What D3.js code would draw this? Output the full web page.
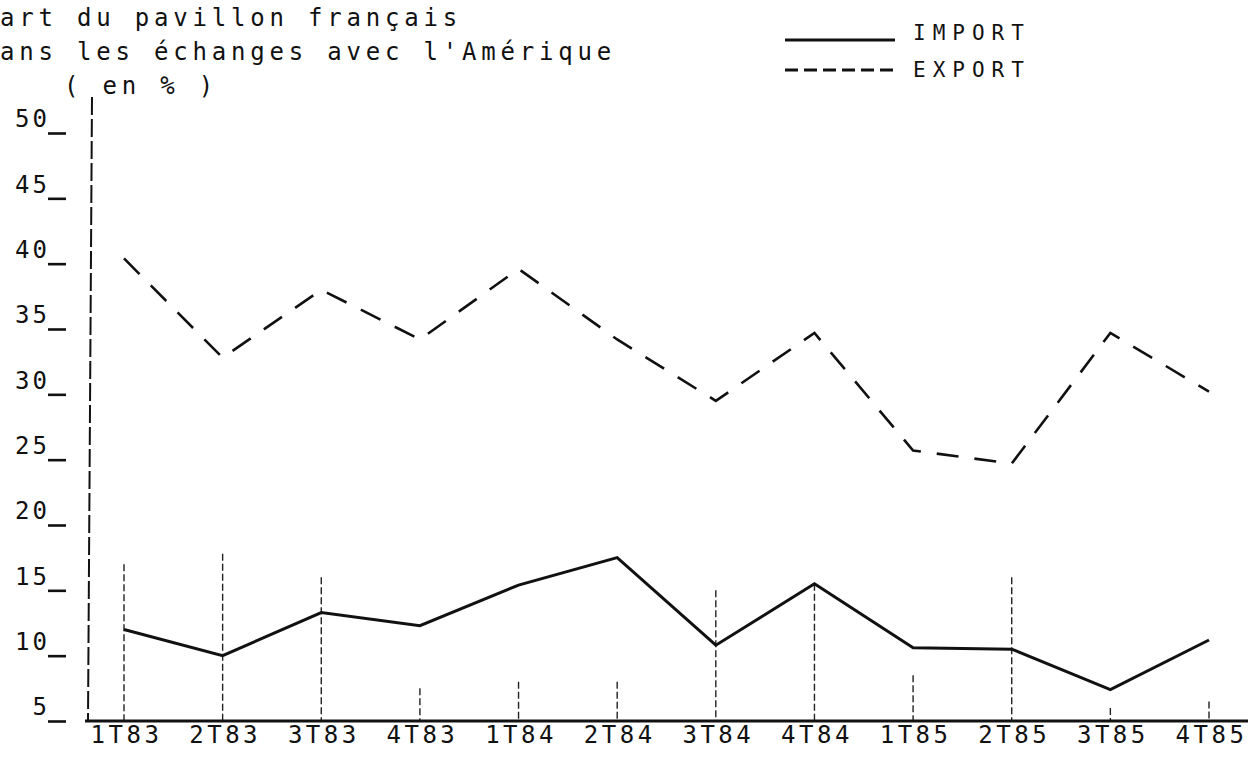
<!DOCTYPE html>
<html>
<head>
<meta charset="utf-8">
<script src="https://cdn.jsdelivr.net/npm/d3@7"></script>
<style>
body { margin: 0; background: #fff; }
text { font-family: "DejaVu Sans Mono", monospace; fill: #111; }
</style>
</head>
<body>
<script>
// quarters on the x axis
var quarters = ['1T83', '2T83', '3T83', '4T83', '1T84', '2T84', '3T84', '4T84', '1T85', '2T85', '3T85', '4T85'];
// share of the French flag, in %
var importPct = [12, 10, 13.3, 12.3, 15.4, 17.5, 10.8, 15.5, 10.6, 10.5, 7.4, 11.2];
var exportPct = [40.4, 32.8, 38, 34.2, 39.6, 34.2, 29.5, 34.7, 25.7, 24.7, 34.7, 30.2];
var yTicks = [5, 10, 15, 20, 25, 30, 35, 40, 45, 50];
// top of the hand drawn drop lines, in %
var guideTop = [17, 17.8, 16, 7.5, 8, 8, 15, 15.5, 8.5, 16, 6, 6.5];
var titleLines = ['art du pavillon français', "ans les échanges avec l'Amérique", '( en % )'];
var legendItems = ['IMPORT', 'EXPORT'];

var width = 1248, height = 757;

var svg = d3.select('body').append('svg')
  .attr('width', width)
  .attr('height', height);

var x = d3.scalePoint().domain(quarters).range([124, 1209]);
var y = d3.scaleLinear().domain([5, 50]).range([721, 133]);

// title
svg.selectAll('text.title')
  .data(titleLines)
  .enter().append('text')
  .attr('class', 'title')
  .attr('x', function(d, i) { return i === 2 ? 64 : 0; })
  .attr('y', function(d, i) { return 26 + i * 34; })
  .style('font-size', '24px')
  .style('letter-spacing', '4.8px')
  .text(function(d) { return d; });

// drop lines
svg.selectAll('line.guide')
  .data(quarters)
  .enter().append('line')
  .attr('class', 'guide')
  .attr('x1', function(d) { return x(d); })
  .attr('x2', function(d) { return x(d); })
  .attr('y1', function(d, i) { return y(guideTop[i]); })
  .attr('y2', y(5))
  .attr('stroke', '#222')
  .attr('stroke-width', 1.4)
  .attr('stroke-dasharray', '7,3');

// y axis
var yAxis = svg.append('g')
  .attr('transform', 'translate(48,0)')
  .call(d3.axisLeft(y).tickValues(yTicks).tickSize(-18).tickPadding(-2));
yAxis.select('.domain').remove();
yAxis.selectAll('.tick line').attr('stroke', '#111').attr('stroke-width', 2.6);
yAxis.selectAll('.tick text')
  .attr('dy', '-0.26em')
  .style('font-size', '24px')
  .style('letter-spacing', '3px')
  .style('font-family', '"DejaVu Sans Mono", monospace')
  .attr('fill', '#111');

svg.append('line')
  .attr('x1', 92).attr('y1', y(50) - 36)
  .attr('x2', 88).attr('y2', y(5))
  .attr('stroke', '#111')
  .attr('stroke-width', 2)
  .attr('stroke-dasharray', '18,4');

// x axis
var xAxis = svg.append('g')
  .attr('transform', 'translate(0,' + y(5) + ')')
  .call(d3.axisBottom(x).tickSize(0).tickPadding(5));
xAxis.select('.domain').remove();
xAxis.selectAll('.tick text')
  .attr('dx', 2)
  .attr('dy', '0.71em')
  .style('font-size', '24px')
  .style('letter-spacing', '3.5px')
  .style('font-family', '"DejaVu Sans Mono", monospace')
  .attr('fill', '#111');

svg.append('line')
  .attr('x1', 85).attr('x2', width)
  .attr('y1', y(5)).attr('y2', y(5))
  .attr('stroke', '#111')
  .attr('stroke-width', 3);

// series
var line = d3.line()
  .x(function(d, i) { return x(quarters[i]); })
  .y(function(d) { return y(d); });

svg.append('path')
  .datum(exportPct)
  .attr('d', line)
  .attr('fill', 'none')
  .attr('stroke', '#111')
  .attr('stroke-width', 2.6)
  .attr('stroke-dasharray', '22,16');

svg.append('path')
  .datum(importPct)
  .attr('d', line)
  .attr('fill', 'none')
  .attr('stroke', '#111')
  .attr('stroke-width', 3);

// legend
var legend = svg.selectAll('g.legend')
  .data(legendItems)
  .enter().append('g')
  .attr('class', 'legend')
  .attr('transform', function(d, i) { return 'translate(785,' + (i * 37) + ')'; });

legend.append('line')
  .attr('x1', 0).attr('x2', 110)
  .attr('y1', function(d, i) { return i === 0 ? 40 : 33; })
  .attr('y2', function(d, i) { return i === 0 ? 40 : 33; })
  .attr('stroke', '#111')
  .attr('stroke-width', 3)
  .attr('stroke-dasharray', function(d, i) { return i === 0 ? null : '13,6'; });

legend.append('text')
  .attr('x', 128)
  .attr('y', 40)
  .style('font-size', '21px')
  .style('letter-spacing', '7px')
  .text(function(d) { return d; });
</script>
</body>
</html>
